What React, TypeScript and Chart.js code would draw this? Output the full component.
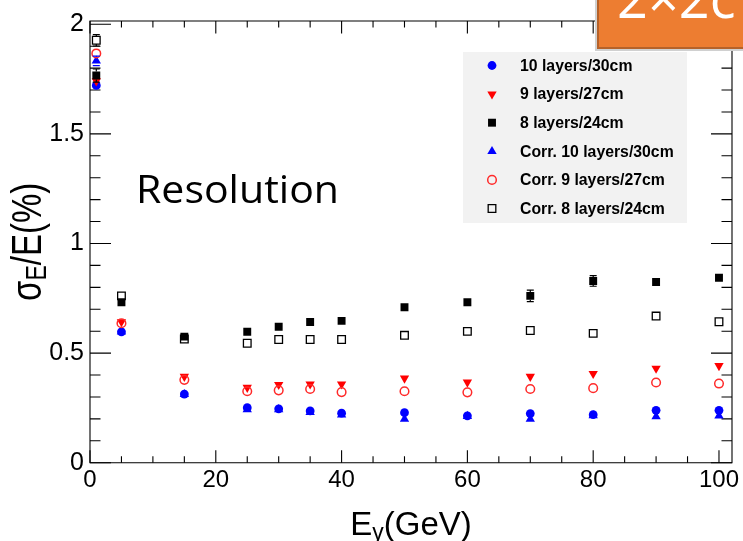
import React, { useEffect, useRef } from 'react';
import { Chart, registerables } from 'chart.js';

Chart.register(...registerables);

// Beam energies (GeV)
const energies = [1, 5, 15, 25, 30, 35, 40, 50, 60, 70, 80, 90, 100];

// Energy resolution sigma_E/E (%)
const res10 = [1.721, 0.597, 0.313, 0.251, 0.246, 0.236, 0.226, 0.228, 0.214, 0.224, 0.219, 0.239, 0.239];
const res9 = [1.741, 0.642, 0.393, 0.343, 0.356, 0.358, 0.358, 0.385, 0.367, 0.393, 0.406, 0.43, 0.442];
const res8 = [1.766, 0.732, 0.575, 0.597, 0.62, 0.642, 0.647, 0.709, 0.732, 0.761, 0.829, 0.824, 0.844];
const corr10 = [1.833, 0.597, 0.312, 0.243, 0.243, 0.23, 0.218, 0.199, 0.212, 0.199, 0.215, 0.21, 0.214];
const corr9 = [1.867, 0.636, 0.378, 0.326, 0.33, 0.336, 0.322, 0.326, 0.321, 0.336, 0.34, 0.366, 0.361];
const corr8 = [1.927, 0.761, 0.564, 0.545, 0.562, 0.562, 0.562, 0.581, 0.599, 0.603, 0.59, 0.669, 0.643];

// Statistical errors on the resolution
const err10 = [0.02, 0.006, 0.005, 0.005, 0.005, 0.005, 0.005, 0.006, 0.006, 0.006, 0.006, 0.008, 0.008];
const err9 = [0.012, 0.006, 0.006, 0.006, 0.006, 0.006, 0.006, 0.006, 0.006, 0.006, 0.006, 0.008, 0.008];
const err8 = [0.03, 0.008, 0.008, 0.008, 0.008, 0.008, 0.008, 0.01, 0.01, 0.026, 0.024, 0.01, 0.01];
const errC10 = [0.022, 0.006, 0.005, 0.005, 0.005, 0.005, 0.005, 0.006, 0.006, 0.006, 0.006, 0.008, 0.008];
const errC9 = [0.016, 0.006, 0.006, 0.006, 0.006, 0.006, 0.006, 0.006, 0.006, 0.006, 0.006, 0.008, 0.008];
const errC8 = [0.026, 0.008, 0.008, 0.008, 0.008, 0.008, 0.008, 0.01, 0.01, 0.01, 0.01, 0.01, 0.01];

const seriesLabels = [
  '10 layers/30cm',
  '9 layers/27cm',
  '8 layers/24cm',
  'Corr. 10 layers/30cm',
  'Corr. 9 layers/27cm',
  'Corr. 8 layers/24cm',
];

// Axis tick labels
const xTickValues = [0, 20, 40, 60, 80, 100];
const yTickValues = [0, 0.5, 1, 1.5, 2];
const xMinorStep = 5;
const yMinorStep = 0.1;

const X_MAX = 102.07;
const Y_MAX = 2.015;

type Marker = {
  style: 'circle' | 'triangle' | 'rect';
  rotation: number;
  radius: number;
  fill: string;
  stroke: string;
  lineWidth: number;
};

const markers: Marker[] = [
  { style: 'circle', rotation: 0, radius: 4.4, fill: '#0000ff', stroke: '#0000ff', lineWidth: 0 },
  { style: 'triangle', rotation: 180, radius: 5.4, fill: '#ff0000', stroke: '#ff0000', lineWidth: 0 },
  { style: 'rect', rotation: 0, radius: 5.6, fill: '#000000', stroke: '#000000', lineWidth: 0 },
  { style: 'triangle', rotation: 0, radius: 5.4, fill: '#0000ff', stroke: '#0000ff', lineWidth: 0 },
  { style: 'circle', rotation: 0, radius: 4.3, fill: 'rgba(0,0,0,0)', stroke: '#ff2a2a', lineWidth: 1.5 },
  { style: 'rect', rotation: 0, radius: 5.4, fill: 'rgba(0,0,0,0)', stroke: '#000000', lineWidth: 1.3 },
];

const seriesValues = [res10, res9, res8, corr10, corr9, corr8];
const seriesErrors = [err10, err9, err8, errC10, errC9, errC8];

const AXIS_FONT = '"Liberation Sans", Arial, Helvetica, sans-serif';
const SLIDE_FONT = '"Open Sans", Lato, sans-serif';

function drawMarker(ctx: CanvasRenderingContext2D, m: Marker, x: number, y: number) {
  ctx.save();
  ctx.beginPath();
  if (m.style === 'circle') {
    ctx.arc(x, y, m.radius, 0, Math.PI * 2);
  } else if (m.style === 'rect') {
    const s = Math.SQRT1_2 * m.radius;
    ctx.rect(x - s, y - s, 2 * s, 2 * s);
  } else {
    let rad = (m.rotation * Math.PI) / 180;
    ctx.moveTo(x + Math.sin(rad) * m.radius, y - Math.cos(rad) * m.radius);
    rad += (2 * Math.PI) / 3;
    ctx.lineTo(x + Math.sin(rad) * m.radius, y - Math.cos(rad) * m.radius);
    rad += (2 * Math.PI) / 3;
    ctx.lineTo(x + Math.sin(rad) * m.radius, y - Math.cos(rad) * m.radius);
    ctx.closePath();
  }
  ctx.fillStyle = m.fill;
  ctx.fill();
  if (m.lineWidth > 0) {
    ctx.lineWidth = m.lineWidth;
    ctx.strokeStyle = m.stroke;
    ctx.stroke();
  }
  ctx.restore();
}

// Draw text stretched horizontally so it spans the given width
function fillTextToWidth(ctx: CanvasRenderingContext2D, text: string, x: number, y: number, width: number) {
  const w = ctx.measureText(text).width;
  ctx.save();
  ctx.translate(x, y);
  ctx.scale(width / w, 1);
  ctx.fillText(text, 0, 0);
  ctx.restore();
}

// Frame with inward ticks on all four sides
const framePlugin = {
  id: 'rootFrame',
  beforeDatasetsDraw(chart: any) {
    const ctx: CanvasRenderingContext2D = chart.ctx;
    const { left, right, top, bottom } = chart.chartArea;
    const xs = chart.scales.x;
    const ys = chart.scales.y;
    ctx.save();
    ctx.strokeStyle = '#000';
    ctx.lineWidth = 1.1;
    ctx.beginPath();
    ctx.rect(left, top, right - left, bottom - top);
    ctx.stroke();

    ctx.beginPath();
    for (let v = 0; v <= X_MAX + 1e-9; v += xMinorStep) {
      const major = Math.abs(v % 20) < 1e-6;
      const len = major ? 12.5 : 6.5;
      const px = xs.getPixelForValue(v);
      ctx.moveTo(px, bottom);
      ctx.lineTo(px, bottom - len);
      ctx.moveTo(px, top);
      ctx.lineTo(px, top + len);
    }
    for (let i = 0; i * yMinorStep <= Y_MAX + 1e-9; i++) {
      const v = i * yMinorStep;
      const major = i % 5 === 0;
      const len = major ? 21 : 10.5;
      const py = ys.getPixelForValue(v);
      ctx.moveTo(left, py);
      ctx.lineTo(left + len, py);
      ctx.moveTo(right, py);
      ctx.lineTo(right - len, py);
    }
    ctx.stroke();
    ctx.restore();
  },
};

// Vertical error bars drawn outside each marker
const errorBarPlugin = {
  id: 'errorBars',
  afterDatasetsDraw(chart: any) {
    const ctx: CanvasRenderingContext2D = chart.ctx;
    const ys = chart.scales.y;
    ctx.save();
    chart.data.datasets.forEach((ds: any, di: number) => {
      const meta = chart.getDatasetMeta(di);
      const errs: number[] = ds.errors;
      const m = markers[di];
      const half = m.style === 'circle' ? m.radius : m.style === 'rect' ? Math.SQRT1_2 * m.radius : m.radius * 0.8;
      ctx.strokeStyle = m.stroke;
      ctx.lineWidth = 1.2;
      meta.data.forEach((pt: any, i: number) => {
        const v = ds.data[i].y;
        const yHi = ys.getPixelForValue(v + errs[i]);
        const yLo = ys.getPixelForValue(v - errs[i]);
        if (pt.y - yHi <= half + 0.5) return;
        ctx.beginPath();
        ctx.moveTo(pt.x, pt.y - half);
        ctx.lineTo(pt.x, yHi);
        ctx.moveTo(pt.x - 3.5, yHi);
        ctx.lineTo(pt.x + 3.5, yHi);
        ctx.moveTo(pt.x, pt.y + half);
        ctx.lineTo(pt.x, yLo);
        ctx.moveTo(pt.x - 3.5, yLo);
        ctx.lineTo(pt.x + 3.5, yLo);
        ctx.stroke();
      });
    });
    ctx.restore();
  },
};

// Legend box, axis titles and slide annotations
const overlayPlugin = {
  id: 'overlay',
  afterDraw(chart: any) {
    const ctx: CanvasRenderingContext2D = chart.ctx;
    const { left, right, top, bottom } = chart.chartArea;
    ctx.save();

    // legend
    ctx.fillStyle = '#f2f2f2';
    ctx.fillRect(463, 52, 224, 171);
    ctx.font = `bold 15.8px ${AXIS_FONT}`;
    ctx.textBaseline = 'middle';
    ctx.textAlign = 'left';
    seriesLabels.forEach((label, i) => {
      const y = 65.5 + i * 28.6;
      drawMarker(ctx, markers[i], 492, y);
      ctx.fillStyle = '#000';
      ctx.fillText(label, 520, y + 1);
    });

    // x title: E_gamma(GeV)
    ctx.fillStyle = '#000';
    ctx.textBaseline = 'alphabetic';
    const big = `33px ${AXIS_FONT}`;
    const sub = `23px ${AXIS_FONT}`;
    ctx.font = big;
    const wE = ctx.measureText('E').width;
    const wRest = ctx.measureText('(GeV)').width;
    ctx.font = sub;
    const wG = ctx.measureText('γ').width;
    const total = wE + wG + wRest;
    const x0 = (left + right) / 2 - total / 2;
    const base = 535;
    ctx.font = big;
    ctx.fillText('E', x0, base);
    ctx.font = sub;
    ctx.fillText('γ', x0 + wE, base + 5);
    ctx.font = big;
    ctx.fillText('(GeV)', x0 + wE + wG, base);

    // y title: sigma_E/E(%), rotated and drawn with taller glyphs
    ctx.save();
    ctx.translate(41, (top + bottom) / 2);
    ctx.rotate(-Math.PI / 2);
    ctx.scale(1, 1.3);
    ctx.font = big;
    const ws = ctx.measureText('σ').width;
    const wT = ctx.measureText('/E(%)').width;
    ctx.font = sub;
    const wSub = ctx.measureText('E').width;
    const tot2 = ws + wSub + wT;
    const s0 = -tot2 / 2;
    ctx.font = big;
    ctx.fillText('σ', s0, 0);
    ctx.font = sub;
    ctx.fillText('E', s0 + ws, 4);
    ctx.font = big;
    ctx.fillText('/E(%)', s0 + ws + wSub, 0);
    ctx.restore();

    // "Resolution" caption
    ctx.font = `39px ${SLIDE_FONT}`;
    ctx.fillStyle = '#000';
    fillTextToWidth(ctx, 'Resolution', 136, 203, 203);

    // orange title box at the top right
    ctx.fillStyle = '#d0d0d0';
    ctx.fillRect(595, -2, 150, 53);
    ctx.fillStyle = '#ed7d31';
    ctx.fillRect(598, -2, 147, 50);
    ctx.strokeStyle = '#b5622a';
    ctx.lineWidth = 2;
    ctx.strokeRect(598, -2, 147, 50);
    ctx.fillStyle = '#ffffff';
    ctx.font = `54px ${SLIDE_FONT}`;
    ctx.fillText('2×2c', 617, 18);

    ctx.restore();
  },
};

export default function App() {
  const canvasRef = useRef<HTMLCanvasElement | null>(null);

  useEffect(() => {
    document.body.style.margin = '0';
    const canvas = canvasRef.current;
    if (!canvas) return;

    const datasets = seriesLabels.map((label, i) => ({
      label,
      data: energies.map((e, j) => ({ x: e, y: seriesValues[i][j] })),
      errors: seriesErrors[i],
      pointStyle: markers[i].style,
      rotation: markers[i].rotation,
      pointRadius: markers[i].radius,
      pointHoverRadius: markers[i].radius,
      backgroundColor: markers[i].fill,
      borderColor: markers[i].stroke,
      pointBorderWidth: markers[i].lineWidth,
      borderWidth: markers[i].lineWidth,
      showLine: false,
      order: seriesLabels.length - i,
    }));

    const chart = new Chart(canvas, {
      type: 'scatter',
      data: { datasets } as any,
      options: {
        animation: false,
        responsive: false,
        devicePixelRatio: 1,
        layout: { padding: { top: 12.7, right: 11, left: 0, bottom: 0 } },
        plugins: { legend: { display: false }, tooltip: { enabled: false } },
        events: [],
        scales: {
          x: {
            type: 'linear',
            min: 0,
            max: X_MAX,
            border: { display: false },
            grid: { display: false, drawTicks: false },
            afterBuildTicks: (scale: any) => {
              scale.ticks = xTickValues.map((v) => ({ value: v }));
            },
            afterFit: (scale: any) => {
              scale.height = 78.3;
            },
            ticks: {
              padding: 3.5,
              maxRotation: 0,
              autoSkip: false,
              color: '#000',
              font: { family: AXIS_FONT, size: 24 },
              callback: (v: any) => String(v),
            },
          },
          y: {
            type: 'linear',
            min: 0,
            max: Y_MAX,
            border: { display: false },
            grid: { display: false, drawTicks: false },
            afterBuildTicks: (scale: any) => {
              scale.ticks = yTickValues.map((v) => ({ value: v }));
            },
            afterFit: (scale: any) => {
              scale.width = 90;
            },
            ticks: {
              padding: 6,
              autoSkip: false,
              color: '#000',
              font: { family: AXIS_FONT, size: 25 },
              callback: (v: any) => String(v),
            },
          },
        },
      } as any,
      plugins: [framePlugin, errorBarPlugin, overlayPlugin],
    });

    return () => chart.destroy();
  }, []);

  return (
    <div style={{ position: 'fixed', left: 0, top: 0, width: 743, height: 541, background: '#fff' }}>
      <canvas ref={canvasRef} width={743} height={541} style={{ width: 743, height: 541, display: 'block' }} />
    </div>
  );
}
